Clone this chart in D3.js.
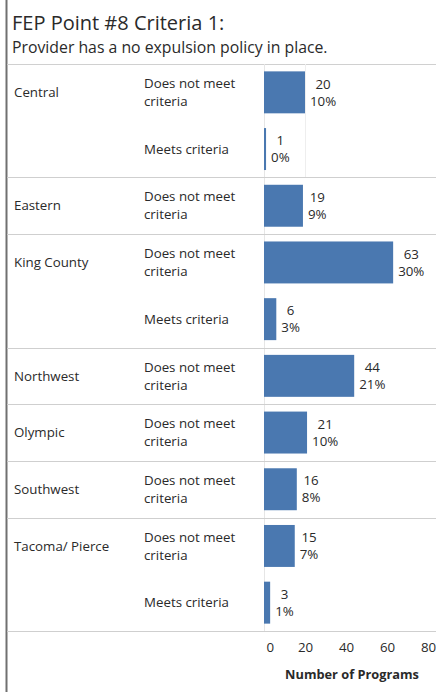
<!DOCTYPE html>
<html><head><meta charset="utf-8">
<script src="https://cdn.jsdelivr.net/npm/d3@7/dist/d3.min.js"></script>
<style>
html,body{margin:0;padding:0;background:#fff;}
svg{display:block;font-family:"Open Sans","Noto Sans",sans-serif;}
</style></head>
<body>
<svg id="chart" width="436" height="692"></svg>
<script>
const titleText = "FEP Point #8 Criteria 1:";
const subtitleText = "Provider has a no expulsion policy in place.";
const regions = ["Central","Central","Eastern","King County","King County","Northwest","Olympic","Southwest","Tacoma/ Pierce","Tacoma/ Pierce"];
const criteria = ["Does not meet criteria","Meets criteria","Does not meet criteria","Does not meet criteria","Meets criteria","Does not meet criteria","Does not meet criteria","Does not meet criteria","Does not meet criteria","Meets criteria"];
const counts = [20,1,19,63,6,44,21,16,15,3];
const percents = ["10%","0%","9%","30%","3%","21%","10%","8%","7%","1%"];
const xTicks = [0,20,40,60,80];
const xTitle = "Number of Programs";

(function(){
const rows = counts.map((v,i)=>({key:i, region:regions[i], crit:criteria[i], value:v, pct:percents[i]}));

const svg = d3.select("#chart");
const W = 436, H = 692;
const y0 = 64, y1 = 631;
const FS = 13.3, TXT = "#2a2a2a";
const x = d3.scaleLinear().domain([0,80]).range([264,428]);
const y = d3.scaleBand().domain(rows.map(d=>d.key)).range([y0,y1]).paddingInner(0.26).paddingOuter(0.13);
const step = y.step();

svg.append("line").attr("x1",6.5).attr("x2",6.5).attr("y1",0).attr("y2",H).attr("stroke","#707070").attr("stroke-width",2);

svg.append("text").attr("x",12).attr("y",30).attr("font-size",20).attr("fill",TXT).text(titleText);
svg.append("text").attr("x",12).attr("y",53).attr("font-size",15.8).attr("fill",TXT).text(subtitleText);

svg.append("line").attr("x1",7).attr("x2",W).attr("y1",y0+0.5).attr("y2",y0+0.5).attr("stroke","#d0d0d0");

svg.append("line").attr("x1",x(0)+0.5).attr("x2",x(0)+0.5).attr("y1",y0).attr("y2",y1).attr("stroke","#e6e6e6");
svg.append("line").attr("x1",x(20)+0.5).attr("x2",x(20)+0.5).attr("y1",y0).attr("y2",y0+2*step).attr("stroke","#eeeeee");

const groupBottoms = [];
rows.forEach((d,i)=>{ if(i===rows.length-1 || rows[i+1].region!==d.region) groupBottoms.push(i); });
groupBottoms.forEach(i=>{
  const yy = Math.round(y0 + (i+1)*step)+0.5;
  svg.append("line").attr("x1",7).attr("x2",W).attr("y1",yy).attr("y2",yy).attr("stroke","#cfcfcf");
});

rows.forEach((d,i)=>{
  if(i===0 || rows[i-1].region!==d.region){
    svg.append("text").attr("x",14).attr("y",y0+(i+0.5)*step).attr("dy","0.35em")
      .attr("font-size",FS).attr("fill",TXT).text(d.region);
  }
});

rows.forEach((d,i)=>{
  const cy = y0+(i+0.5)*step;
  if(d.crit==="Does not meet criteria"){
    const t = svg.append("text").attr("x",144).attr("font-size",FS).attr("fill",TXT);
    t.append("tspan").attr("x",144).attr("y",cy-9).attr("dy","0.35em").text("Does not meet");
    t.append("tspan").attr("x",144).attr("y",cy+9).attr("dy","0.35em").text("criteria");
  } else {
    svg.append("text").attr("x",144).attr("y",cy).attr("dy","0.35em").attr("font-size",FS).attr("fill",TXT).text(d.crit);
  }
});

svg.append("g").selectAll("rect").data(rows).join("rect")
  .attr("x",x(0)).attr("y",d=>y(d.key)).attr("width",d=>Math.max(2,x(d.value)-x(0))).attr("height",y.bandwidth())
  .attr("fill","#4a78b0");

rows.forEach(d=>{
  const cy = y(d.key)+y.bandwidth()/2;
  const g = svg.append("g");
  const t1 = g.append("text").attr("y",cy-8.5).attr("dy","0.35em").attr("font-size",FS).attr("fill",TXT).attr("text-anchor","middle").text(d.value);
  const t2 = g.append("text").attr("y",cy+8.5).attr("dy","0.35em").attr("font-size",FS).attr("fill",TXT).attr("text-anchor","middle").text(d.pct);
  const w = Math.max(t1.node().getComputedTextLength(), t2.node().getComputedTextLength());
  const end = x(0)+Math.max(2,x(d.value)-x(0));
  const cx = end + 5 + w/2;
  t1.attr("x",cx); t2.attr("x",cx);
});

const axis = d3.axisBottom(x).tickValues(xTicks).tickSize(0).tickPadding(0);
const ag = svg.append("g").attr("transform",`translate(0,${y1+12})`).call(axis);
ag.select(".domain").remove();
ag.selectAll("text").attr("font-size",FS).attr("fill",TXT).attr("font-family","'Open Sans','Noto Sans',sans-serif");
ag.selectAll("text").filter(d=>d===0).attr("text-anchor","start").attr("dx",2);

svg.append("text").attr("x",352).attr("y",679).attr("text-anchor","middle").attr("font-size",12.8).attr("font-weight","bold").attr("fill",TXT).text(xTitle);
})();
</script>
</body></html>
